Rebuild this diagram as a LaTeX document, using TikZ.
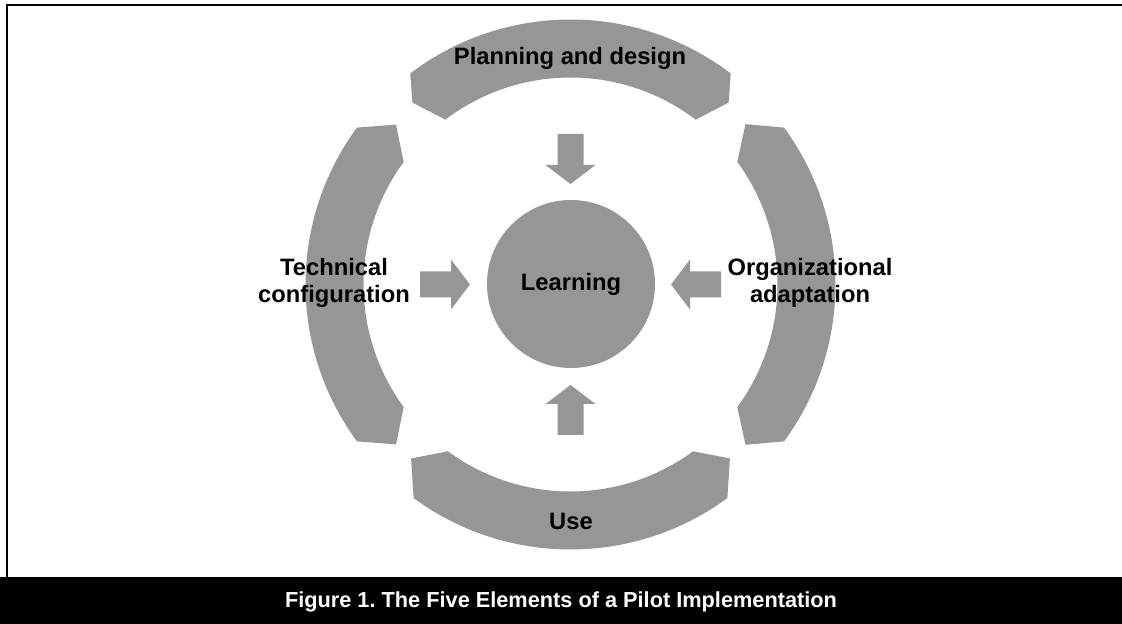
\documentclass[tikz,border=0pt]{standalone}
\usepackage{fontspec}
\setmainfont{Liberation Sans}
\usetikzlibrary{calc}
\definecolor{segfill}{RGB}{150,150,150}
\newcommand\ringseg[4]{%
  \fill[seg] ($(C)+(#1-#2:198.75pt)$) arc[start angle=#1-#2, end angle=#1+#2, radius=198.75pt]
    -- ($(C)+(#1+#3:#4)$) -- ($(C)+(#1+#2:155.25pt)$)
    arc[start angle=#1+#2, end angle=#1-#2, radius=155.25pt]
    -- ($(C)+(#1-#3:#4)$) -- cycle;}
\newcommand\blockarrow[1]{%
  \fill[seg, shift={(C)}, rotate=#1] (100.5,0) -- (119.5,25) -- (119.5,13) -- (150.5,13)
    -- (150.5,-13) -- (119.5,-13) -- (119.5,-25) -- cycle;}
\begin{document}
\frenchspacing
\begin{tikzpicture}[x=0.75pt,y=0.75pt,
  seg/.style={fill=segfill},
  lbl/.style={font=\bfseries\fontsize{17.8pt}{20.25pt}\selectfont, align=center, inner sep=0pt},
  capt/.style={font=\bfseries\fontsize{16.3pt}{19pt}\selectfont, text=white, inner sep=0pt}]
\useasboundingbox (0,0) rectangle (1122,624);
\coordinate (C) at (570.5,339.5);
% frame
\fill[black] (0,0) rectangle (1122,46.5);
\draw[line width=1.5pt] (7,46.5) -- (7,619) -- (1122,619);
% ring segments
\ringseg{90}{37.2}{41}{180.75pt}
\ringseg{180}{36.3}{42.5}{177.5pt}
\ringseg{270}{36.3}{42.5}{177pt}
\ringseg{0}{36.3}{42.5}{178pt}
% arrows
\blockarrow{90}
\blockarrow{180}
\blockarrow{270}
\blockarrow{0}
% centre
\node[circle, fill=segfill, minimum size=126pt, inner sep=0pt, lbl] (learn) at (571,340) {Learning};
% labels
\node[lbl, anchor=base] (plan) at (570,559) {Planning and design};
\node[lbl, anchor=base] (use) at (571,94.7) {Use};
\node[lbl] (tech) at (334,340.6) {Technical\\configuration};
\node[lbl] (org) at (810,341) {Organizational\\adaptation};
\node[capt, anchor=base] (caption) at (561,16) {Figure 1. The Five Elements of a Pilot Implementation};
\end{tikzpicture}
\end{document}
